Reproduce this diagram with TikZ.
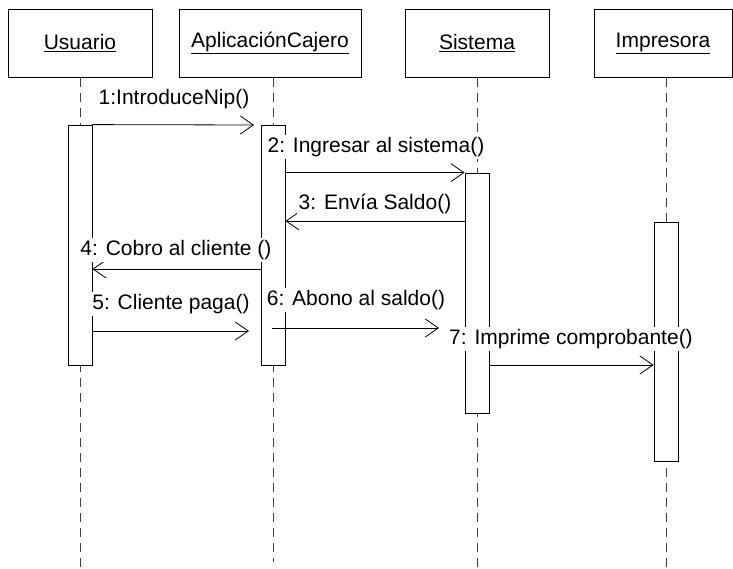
\documentclass[tikz,border=0pt]{standalone}
\usepackage{fontspec}
\setmainfont{Liberation Sans}
\usetikzlibrary{arrows.meta}
\begin{document}
\begin{tikzpicture}[x=1pt,y=-1pt,
  every node/.style={font=\fontsize{21}{25}\selectfont},
  obj/.style={draw, line width=0.8pt, fill=white, minimum height=68pt, inner sep=0pt},
  act/.style={draw, line width=0.8pt, fill=white, minimum width=24pt, inner sep=0pt},
  lifeline/.style={draw=black!75, line width=0.9pt, dash pattern=on 9pt off 6pt},
  msg/.style={line width=0.8pt, -{Straight Barb[length=13pt,width=18pt,line width=0.8pt]}},
  lbl/.style={fill=white, inner sep=2pt}]
\useasboundingbox (0,0) rectangle (733,569);
\fill[white] (0,0) rectangle (733,569);

% objects
\node[obj, minimum width=144pt] (usr) at (80,43) {\underline{Usuario}};
\node[obj, minimum width=182pt] (app) at (270,43) {\underline{AplicaciónCajero}};
\node[obj, minimum width=144pt] (sis) at (477,43) {\underline{Sistema}};
\node[obj, minimum width=138pt] (imp) at (663,43) {\underline{Impresora}};

% lifeline ends
\coordinate (uT) at (80,78);  \coordinate (uB) at (80,569);
\coordinate (aT) at (273,78); \coordinate (aB) at (273,562);
\coordinate (sT) at (477,78); \coordinate (sB) at (477,569);
\coordinate (pT) at (666,78); \coordinate (pB) at (666,569);
\draw[lifeline] (uT) -- (uB);
\draw[lifeline] (aT) -- (aB);
\draw[lifeline] (sT) -- (sB);
\draw[lifeline] (pT) -- (pB);

% activations
\node[act, minimum height=240pt] (uAct) at (80,245) {};
\node[act, minimum height=240pt] (aAct) at (273,245) {};
\node[act, minimum height=240pt] (sAct) at (477,293) {};
\node[act, minimum height=239pt] (pAct) at (666,341.5) {};

% message coordinates
\coordinate (m1e) at (254,125);
\coordinate (m3) at (0,221);
\coordinate (m4) at (0,269);
\coordinate (m5) at (0,331);
\coordinate (m5e) at (249,331);
\coordinate (m6s) at (272,328);
\coordinate (m6e) at (439,328);
\coordinate (m7) at (0,365);

% messages
\draw[msg] (uAct.north east) -- (m1e);
\draw[msg] (aAct.east |- sAct.north) -- (sAct.north west);
\draw[msg] (sAct.west |- m3) -- (aAct.east |- m3);
\draw[msg] (aAct.west |- m4) -- (uAct.east |- m4);
\draw[msg] (uAct.east |- m5) -- (m5e);
\draw[msg] (m6s) -- (m6e);
\draw[msg] (sAct.east |- m7) -- (pAct.west |- m7);

% labels
\node[lbl] (l1) at (174,99) {1:IntroduceNip()};
\node[lbl] (l2) at (376,147) {2: Ingresar al sistema()};
\node[lbl] (l3) at (375,204) {3: Envía Saldo()};
\node[lbl] (l4) at (176,250) {4: Cobro al cliente ()};
\node[lbl] (l5) at (171,304) {5: Cliente paga()};
\node[lbl] (l6) at (356,300) {6: Abono al saldo()};
\node[lbl] (l7) at (571,339) {7: Imprime comprobante()};
\end{tikzpicture}
\end{document}
